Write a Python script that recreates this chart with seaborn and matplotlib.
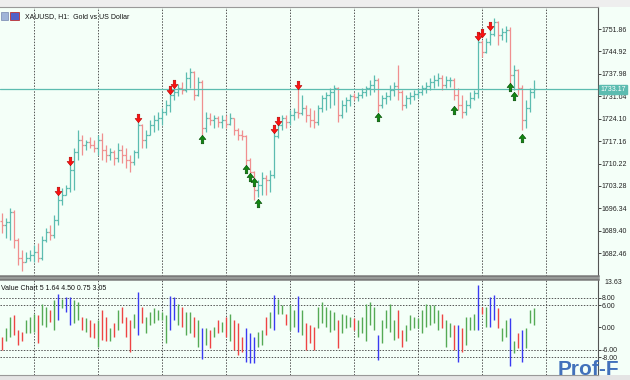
import matplotlib
matplotlib.use("Agg")
import matplotlib.pyplot as plt
from matplotlib.path import Path
from matplotlib.patches import Rectangle
import numpy as np
import pandas as pd
import seaborn as sns

# XAUUSD H1 bars (open of each bar = close of the bar before)
first_open = 1692.5
highs = [1694.9, 1693.3, 1696.4, 1695.8, 1687.2, 1683.4, 1682.8, 1683.4, 1685.0, 1685.6,
         1687.8, 1690.3, 1691.2, 1694.3, 1700.5, 1702.6, 1703.6, 1709.8, 1715.0, 1720.6,
         1719.0, 1717.5, 1718.4, 1717.5, 1719.0, 1719.7, 1716.0, 1715.0, 1714.4, 1716.6,
         1716.0, 1715.0, 1712.9, 1714.4, 1723.1, 1722.5, 1720.6, 1723.7, 1725.2, 1726.2,
         1727.4, 1729.9, 1732.0, 1733.6, 1734.8, 1735.4, 1738.5, 1739.8, 1738.8, 1737.0,
         1736.1, 1726.2, 1725.9, 1725.2, 1724.9, 1725.2, 1725.2, 1725.9, 1724.3, 1721.2,
         1720.6, 1719.0, 1711.9, 1708.0, 1705.1, 1707.6, 1706.7, 1708.2, 1720.0, 1723.1,
         1725.2, 1725.2, 1726.8, 1727.4, 1733.6, 1731.4, 1728.3, 1727.4, 1726.8, 1728.3,
         1731.4, 1732.4, 1733.6, 1734.5, 1733.9, 1729.9, 1730.8, 1731.7, 1732.0, 1732.4,
         1733.6, 1734.2, 1736.1, 1737.6, 1736.7, 1731.4, 1732.4, 1734.5, 1735.4, 1740.7,
         1733.0, 1731.4, 1732.4, 1733.0, 1733.6, 1734.5, 1735.4, 1736.7, 1737.6, 1738.2,
         1737.6, 1737.3, 1737.0, 1736.7, 1733.6, 1731.4, 1729.9, 1732.4, 1733.0, 1749.1,
         1748.4, 1749.1, 1751.5, 1755.3, 1754.3, 1752.2, 1752.8, 1752.5, 1740.7, 1739.5,
         1734.5, 1729.9, 1733.6, 1736.1]
lows = [1688.7, 1687.2, 1686.5, 1684.1, 1678.8, 1676.9, 1679.7, 1680.0, 1679.7, 1679.7,
        1680.5, 1685.9, 1686.5, 1687.2, 1691.2, 1697.4, 1700.5, 1701.4, 1702.0, 1711.3,
        1712.9, 1714.4, 1715.0, 1713.8, 1712.9, 1711.3, 1710.7, 1711.3, 1709.8, 1710.7,
        1710.4, 1708.8, 1707.6, 1709.8, 1711.9, 1715.0, 1715.0, 1719.0, 1720.0, 1720.6,
        1722.1, 1725.2, 1726.2, 1729.9, 1731.1, 1731.7, 1732.4, 1733.6, 1729.9, 1731.1,
        1719.0, 1720.0, 1722.1, 1721.2, 1721.5, 1721.2, 1721.2, 1722.1, 1719.0, 1717.5,
        1717.5, 1709.8, 1705.7, 1698.9, 1699.9, 1700.5, 1700.5, 1701.4, 1705.7, 1718.1,
        1720.6, 1721.2, 1722.1, 1723.7, 1724.3, 1725.2, 1723.1, 1721.5, 1721.2, 1722.1,
        1726.2, 1726.8, 1727.4, 1728.3, 1723.1, 1724.3, 1726.2, 1728.0, 1729.9, 1729.6,
        1730.5, 1731.1, 1731.4, 1732.4, 1726.2, 1727.4, 1728.6, 1729.9, 1731.1, 1729.9,
        1726.8, 1727.4, 1728.6, 1729.9, 1730.5, 1731.4, 1732.0, 1733.0, 1733.6, 1734.2,
        1733.0, 1733.6, 1733.9, 1729.9, 1726.8, 1724.3, 1725.2, 1727.4, 1729.9, 1730.5,
        1743.2, 1744.5, 1746.9, 1749.7, 1746.9, 1748.4, 1747.8, 1733.0, 1733.0, 1731.4,
        1720.6, 1721.2, 1726.2, 1730.5]
closes = [1691.2, 1692.1, 1695.2, 1686.5, 1681.0, 1679.7, 1681.0, 1681.9, 1682.8, 1681.0,
          1686.5, 1689.0, 1688.1, 1692.7, 1698.9, 1700.5, 1702.6, 1708.2, 1713.8, 1717.5,
          1716.0, 1716.9, 1716.0, 1715.0, 1717.5, 1714.4, 1712.9, 1713.8, 1711.9, 1714.4,
          1712.9, 1711.3, 1710.7, 1713.8, 1722.1, 1717.5, 1719.0, 1722.1, 1723.7, 1724.3,
          1726.2, 1728.3, 1731.4, 1732.4, 1733.6, 1733.0, 1736.7, 1738.5, 1731.4, 1735.4,
          1721.2, 1724.3, 1723.7, 1724.3, 1723.1, 1723.7, 1722.4, 1724.3, 1720.6, 1719.0,
          1718.7, 1711.3, 1707.6, 1702.0, 1703.6, 1705.7, 1705.1, 1706.7, 1718.7, 1722.1,
          1724.3, 1723.1, 1725.2, 1726.2, 1725.8, 1727.4, 1725.2, 1723.7, 1723.1, 1727.4,
          1730.5, 1731.4, 1732.4, 1733.6, 1725.2, 1728.3, 1729.9, 1731.1, 1730.8, 1731.4,
          1732.4, 1733.6, 1734.5, 1736.1, 1728.3, 1730.5, 1731.1, 1733.0, 1734.2, 1732.4,
          1728.3, 1730.5, 1731.1, 1731.7, 1732.4, 1733.6, 1734.2, 1735.4, 1736.1, 1736.7,
          1734.5, 1736.1, 1736.1, 1731.4, 1728.3, 1726.2, 1728.3, 1730.5, 1732.0, 1747.8,
          1744.7, 1747.8, 1750.3, 1754.0, 1750.0, 1750.9, 1751.5, 1737.6, 1739.2, 1733.6,
          1723.7, 1727.4, 1732.4, 1733.17]

# signal arrows (bar index, price)
sell_idx = [14, 17, 34, 42, 43, 68, 69, 74, 119, 120, 122]
sell_px = [1701.7, 1711.0, 1724.3, 1733.0, 1735.0, 1721.0, 1723.5, 1734.6, 1749.6, 1750.6, 1752.8]
buy_idx = [50, 61, 62, 63, 64, 94, 113, 127, 128, 130]
buy_px = [1717.8, 1708.5, 1706.0, 1704.5, 1698.0, 1724.6, 1726.8, 1733.9, 1731.1, 1718.1]

# Value Chart indicator bars
vc_hi = [-2.5, -0.3, 2.8, 3.3, -0.7, -1.2, 2.0, 2.8, 3.7, 3.3,
         6.4, 5.5, 4.6, 7.3, 9.1, 7.7, 8.2, 8.2, 7.3, 6.8,
         2.8, 2.4, 2.0, 1.1, 2.0, 4.6, 2.8, -0.3, 1.1, 4.6,
         5.5, 2.8, 2.0, 3.7, 9.5, 5.5, 2.8, 4.2, 5.1, 4.6,
         4.2, 3.3, 8.4, 8.2, 6.4, 5.5, 4.2, 4.2, 2.8, 2.0,
         -0.3, -0.3, -0.7, 0.2, 2.0, 1.5, 2.8, 3.7, 2.0, 1.1,
         -2.5, -0.3, -1.6, -2.5, -1.2, -0.7, 2.8, 4.2, 8.6, 7.7,
         6.0, 3.7, 6.0, 4.6, 8.4, 4.6, 1.1, 0.6, 0.2, 5.5,
         6.8, 5.5, 4.6, 4.2, 2.0, 3.7, 3.3, 2.8, 2.4, 2.0,
         2.8, 6.4, 6.8, 5.5, -2.0, 2.0, 4.6, 6.4, 2.0, 4.6,
         -0.7, 0.6, 3.3, 2.8, 2.4, 4.6, 6.4, 6.0, 6.0, 4.6,
         3.7, 2.0, 1.1, 0.6, 0.6, -0.3, 2.8, 2.8, 3.7, 11.3,
         5.5, 5.5, 8.2, 8.6, 5.1, -0.3, 2.0, 2.4, -3.8, -1.6,
         -0.7, -0.3, 4.6, 5.1]
vc_lo = [-6.0, -3.8, -2.5, -2.0, -4.7, -3.8, -1.6, -1.6, -1.2, -4.3,
         0.6, 0.2, 1.5, -0.7, 2.0, 5.1, 4.2, 0.6, 1.1, 2.0,
         -0.7, -1.2, -2.5, -2.9, -5.2, -3.4, -3.8, -3.8, -2.5, -0.7,
         1.1, -2.5, -6.5, -0.3, -2.0, 1.1, -1.6, 0.6, 1.1, 2.0,
         2.0, -4.3, -0.7, 2.0, 0.6, 0.2, -2.0, -1.6, -2.5, -5.2,
         -8.5, -4.7, -5.6, -2.5, -1.6, -1.2, -2.5, -3.8, -6.0, -7.4,
         -6.5, -9.2, -9.6, -9.6, -5.2, -4.7, -2.0, -0.3, -0.7, 3.7,
         3.7, 0.6, -0.7, 0.2, -1.2, -2.0, -6.0, -4.3, -6.0, -0.3,
         1.1, 0.2, -1.2, -0.7, -5.6, -1.6, -0.3, 0.2, -0.7, -2.5,
         -1.6, -3.8, 0.6, -0.7, -8.7, -4.3, -0.3, -1.2, -3.4, -2.9,
         -5.2, -3.8, -0.7, -0.3, -0.3, -1.6, 0.2, 0.6, 1.1, -0.7,
         -0.3, -5.2, -2.5, -6.0, -9.2, -6.5, -4.7, -0.7, -0.7, -0.7,
         3.7, 0.2, 0.2, 2.0, -0.3, -3.8, -2.5, -10.5, -6.9, -5.6,
         -9.2, -5.6, 1.1, 0.6]

price_ticks = [1751.86, 1744.92, 1737.98, 1731.04, 1724.10, 1717.16,
               1710.22, 1703.28, 1696.34, 1689.40, 1682.46]
vc_ticks = [8.0, 6.0, 0.0, -6.0, -8.0]
vc_levels = [8.0, 6.0, -6.0, -8.0]
last_price = 1733.17

df = pd.DataFrame({"high": highs, "low": lows, "close": closes,
                   "vc_hi": vc_hi, "vc_lo": vc_lo})
df["open"] = [first_open] + closes[:-1]
df["x"] = np.arange(len(df))
up = df["close"] >= df["open"]

BG = "#f4fff8"
TEAL = "#5cbcb0"
SALMON = "#f08f8f"
GRID = "#555555"
FS = 5.0

sns.set_style("white", {"axes.facecolor": BG, "figure.facecolor": BG})
plt.rcParams["font.family"] = ["Liberation Sans", "DejaVu Sans"]
plt.rcParams["font.size"] = FS

fig = plt.figure(figsize=(6.3, 3.8), dpi=100)
ax = fig.add_axes([0.0, 0.2737, 0.949, 0.7079])
ax2 = fig.add_axes([0.0, 0.0132, 0.949, 0.2526])

# window frame strips at top and bottom
fig.patches.append(Rectangle((0, 0.982), 1, 0.018, transform=fig.transFigure,
                             fc="#eeeeee", ec="none", zorder=-1))
fig.patches.append(Rectangle((0, 0.0), 1, 0.013, transform=fig.transFigure,
                             fc="#e4e4e4", ec="none", zorder=-1))

gridx = np.arange(8, 150, 16)

# ---- price panel
bar_cols = np.where(up, TEAL, SALMON)
ax.vlines(df["x"], df["low"], df["high"], colors=bar_cols, lw=0.9)
ax.hlines(df["open"], df["x"] - 0.5, df["x"], colors=bar_cols, lw=0.9)
ax.hlines(df["close"], df["x"], df["x"] + 0.5, colors=bar_cols, lw=0.9)
for gx in gridx:
    ax.axvline(gx, color=GRID, lw=0.7, ls=(0, (1.5, 1.5)), zorder=0)
ax.axhline(last_price, color=TEAL, lw=0.9)

down_arrow = Path([(-0.3, 1), (0.3, 1), (0.3, 0), (0.8, 0), (0, -1), (-0.8, 0), (-0.3, 0), (-0.3, 1)], closed=True)
up_arrow = Path([(-0.3, -1), (0.3, -1), (0.3, 0), (0.8, 0), (0, 1), (-0.8, 0), (-0.3, 0), (-0.3, -1)], closed=True)
sns.scatterplot(x=sell_idx, y=sell_px, marker=down_arrow, s=38, color="#ff1010",
                edgecolor="#b00000", linewidth=0.4, ax=ax, zorder=5)
sns.scatterplot(x=buy_idx, y=buy_px, marker=up_arrow, s=38, color="#118811",
                edgecolor="#004400", linewidth=0.4, ax=ax, zorder=5)

ax.set_xlim(-0.5, 149)
ax.set_ylim(1675.4, 1758.7)
ax.set_xticks([])
ax.yaxis.tick_right()
ax.set_yticks(price_ticks)
ax.set_yticklabels([f"{v:.2f}" for v in price_ticks])
ax.tick_params(axis="y", length=2, width=0.6, pad=0.8, colors="#222222", labelsize=FS)
ax.spines["left"].set_visible(False)
ax.spines["right"].set_color("#555555")
ax.spines["right"].set_linewidth(0.8)
ax.spines["top"].set_color("#999999")
ax.spines["bottom"].set_color("#7a7a7a")
ax.spines["bottom"].set_linewidth(1.8)
ax.text(1.004, last_price, f"{last_price:.2f}", transform=ax.get_yaxis_transform(),
        ha="left", va="center", color="white", fontsize=FS,
        bbox=dict(boxstyle="square,pad=0.15", fc=TEAL, ec=TEAL))
ax.text(0.042, 0.965, "XAUUSD, H1:  Gold vs US Dollar", transform=ax.transAxes,
        ha="left", va="center", color="#111111", fontsize=FS)
# small chart icon next to the title
ax.add_patch(Rectangle((0.002, 0.950), 0.012, 0.030, transform=ax.transAxes,
                       fc="#9fb4d8", ec="#6070a0", lw=0.4))
ax.add_patch(Rectangle((0.017, 0.950), 0.014, 0.030, transform=ax.transAxes,
                       fc="#5060c8", ec="#c03030", lw=0.6))

# ---- Value Chart panel
vc_cols = np.where(up, "#55aa55", "#ee4444")
vc_cols = np.where((df["vc_hi"] > 8) | (df["vc_lo"] < -8), "#3a3af2", vc_cols)
ax2.vlines(df["x"], df["vc_lo"], df["vc_hi"], colors=vc_cols, lw=1.0)
for gx in gridx:
    ax2.axvline(gx, color=GRID, lw=0.7, ls=(0, (1.5, 1.5)), zorder=0)
for lv in vc_levels:
    ax2.axhline(lv, color=GRID, lw=0.7, ls=(0, (1.5, 1.5)), zorder=0)
ax2.set_xlim(-0.5, 149)
ax2.set_ylim(-12.8, 13.0)
ax2.set_xticks([])
ax2.yaxis.tick_right()
ax2.set_yticks(vc_ticks)
ax2.set_yticklabels([f"{v:.2f}" for v in vc_ticks])
ax2.tick_params(axis="y", length=2, width=0.6, pad=0.8, colors="#222222", labelsize=FS)
ax2.spines["left"].set_visible(False)
ax2.spines["right"].set_color("#555555")
ax2.spines["right"].set_linewidth(0.8)
ax2.spines["top"].set_color("#7a7a7a")
ax2.spines["top"].set_linewidth(1.8)
ax2.spines["bottom"].set_color("#999999")
ax2.text(1.011, 0.96, "13.63", transform=ax2.transAxes, ha="left", va="center",
         color="#222222", fontsize=FS)
ax2.text(0.002, 0.90, "Value Chart 5 1.64 4.50 0.75 3.05", transform=ax2.transAxes,
         ha="left", va="center", color="#111111", fontsize=FS)

fig.text(0.885, 0.003, "Prof-F", ha="left", va="bottom", color="#2f62b5",
         fontsize=15, fontweight="bold", alpha=0.9)

fig.savefig("out.png", dpi=100, facecolor=BG)
